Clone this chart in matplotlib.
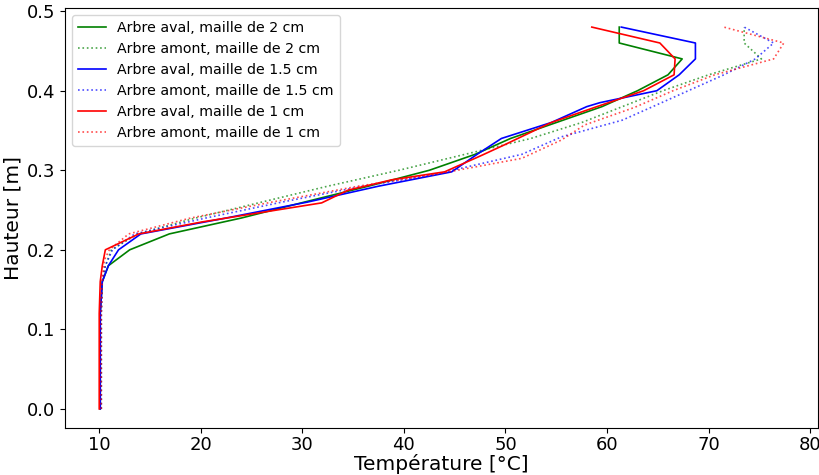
import numpy as np
import matplotlib
matplotlib.use('Agg')
import matplotlib.pyplot as plt

# ── data (height [m], temperature [°C]) ────────────────────────────────────
h_av2 = [0.00, 0.04, 0.08, 0.12, 0.14, 0.16, 0.18, 0.20, 0.22, 0.24, 0.26, 0.28,
         0.30, 0.32, 0.34, 0.36, 0.38, 0.40, 0.42, 0.44, 0.46, 0.48]
T_av2 = [10.1, 10.1, 10.1, 10.1, 10.2, 10.3, 10.9, 13.0, 16.9, 24.0, 30.2, 36.5,
         42.5, 47.0, 50.5, 55.0, 59.5, 63.0, 66.0, 67.4, 61.2, 61.2]

h_am2 = [0.00, 0.04, 0.08, 0.12, 0.16, 0.18, 0.20, 0.22, 0.24, 0.26, 0.28, 0.30,
         0.32, 0.34, 0.36, 0.38, 0.40, 0.42, 0.44, 0.46, 0.48]
T_am2 = [10.2, 10.2, 10.2, 10.2, 10.3, 10.6, 11.2, 13.8, 19.5, 26.0, 32.5, 39.5,
         46.0, 52.5, 57.5, 61.5, 65.5, 70.0, 75.2, 73.5, 73.5]

h_av15 = [0.00, 0.04, 0.08, 0.12, 0.14, 0.16, 0.18, 0.20, 0.22, 0.24, 0.26, 0.28,
          0.298, 0.32, 0.34, 0.36, 0.38, 0.385, 0.40, 0.42, 0.44, 0.46, 0.48]
T_av15 = [10.1, 10.1, 10.1, 10.1, 10.2, 10.3, 10.9, 11.9, 14.1, 22.5, 30.5, 37.5,
          44.7, 47.2, 49.6, 54.5, 58.0, 59.3, 64.9, 67.1, 68.7, 68.7, 61.4]

h_am15 = [0.00, 0.04, 0.08, 0.12, 0.16, 0.18, 0.20, 0.22, 0.24, 0.26, 0.28, 0.294,
          0.32, 0.342, 0.363, 0.38, 0.40, 0.42, 0.44, 0.46, 0.48]
T_am15 = [10.2, 10.2, 10.2, 10.2, 10.3, 10.6, 11.3, 13.5, 20.5, 28.0, 36.0, 42.7,
          51.6, 55.5, 61.5, 64.5, 68.0, 71.5, 74.6, 76.4, 73.5]

h_av1 = [0.00, 0.04, 0.08, 0.12, 0.16, 0.18, 0.20, 0.22, 0.235, 0.259, 0.275,
         0.288, 0.298, 0.319, 0.332, 0.36, 0.38, 0.40, 0.42, 0.44, 0.46, 0.48]
T_av1 = [10.0, 10.0, 10.0, 10.0, 10.1, 10.3, 10.6, 13.9, 20.1, 31.9, 34.5,
         38.8, 44.0, 47.7, 49.9, 54.5, 59.0, 63.6, 66.6, 66.7, 65.2, 58.5]

h_am1 = [0.00, 0.04, 0.08, 0.12, 0.16, 0.187, 0.20, 0.22, 0.24, 0.26, 0.28, 0.294,
         0.315, 0.338, 0.357, 0.379, 0.40, 0.42, 0.44, 0.46, 0.48]
T_am1 = [10.2, 10.2, 10.2, 10.2, 10.3, 10.5, 11.0, 12.9, 19.0, 27.0, 35.5, 42.7,
         51.6, 55.5, 57.8, 62.7, 66.5, 70.6, 76.4, 77.4, 71.5]

series = [
    (T_av2, h_av2, 'g', '-', 'Arbre aval, maille de 2 cm'),
    (T_am2, h_am2, 'g', ':', 'Arbre amont, maille de 2 cm'),
    (T_av15, h_av15, 'b', '-', 'Arbre aval, maille de 1.5 cm'),
    (T_am15, h_am15, 'b', ':', 'Arbre amont, maille de 1.5 cm'),
    (T_av1, h_av1, 'r', '-', 'Arbre aval, maille de 1 cm'),
    (T_am1, h_am1, 'r', ':', 'Arbre amont, maille de 1 cm'),
]

fig = plt.figure(figsize=(8.19, 4.75), dpi=100)
ax = fig.add_axes([65 / 819, 47 / 475, 753 / 819, 420 / 475])

for T, h, c, ls, lab in series:
    alpha = 1.0 if ls == '-' else 0.7
    ax.plot(T, h, color=c, linestyle=ls, lw=1.2, alpha=alpha, label=lab)

ax.set_xlabel('Température [°C]', fontsize=14.5, labelpad=0)
ax.set_ylabel('Hauteur [m]', fontsize=14.5, labelpad=3)
ax.tick_params(labelsize=13)
ax.tick_params(axis='x', pad=2)
ax.legend(loc='upper left', fontsize=10.2, framealpha=0.8, borderaxespad=0.5)

fig.savefig('out.png', dpi=100)
